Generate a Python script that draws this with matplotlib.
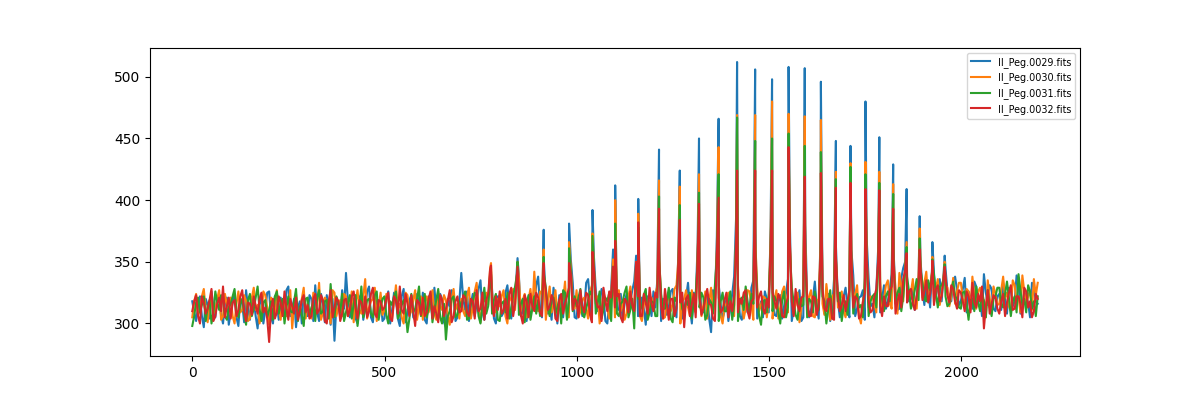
import numpy as np
import matplotlib
matplotlib.use('Agg')
import matplotlib.pyplot as plt

# spectra of II Peg, four frames
# baseline read every ~10 units (base) and half way between (mid), peaks listed separately
files = ['II_Peg.0029.fits', 'II_Peg.0030.fits', 'II_Peg.0031.fits', 'II_Peg.0032.fits']

x_fine = np.linspace(0, 2199, 441)

blue = [318, 302, 322, 297, 315, 326, 305, 318, 300, 321,
        309, 324, 298, 316, 327, 303, 319, 296, 322, 311,
        326, 300, 317, 321, 304, 330, 312, 297, 318, 325,
        306, 320, 331, 302, 316, 323, 299, 286, 318, 327,
        341, 305, 319, 300, 324, 313, 330, 301, 317, 322,
        304, 326, 311, 319, 298, 328, 309, 323, 303, 316,
        325, 300, 318, 329, 306, 320, 297, 314, 324, 305,
        341, 311, 302, 324, 316, 335, 303, 319, 328, 300,
        322, 309, 331, 304, 320, 338, 310, 302, 325, 316,
        338, 305, 321, 314, 329, 300, 318, 326, 309, 333,
        304, 320, 312, 336, 302, 327, 315, 323, 300, 328,
        330, 311, 303, 324, 318, 334, 306, 321, 299, 317,
        326, 335, 302, 319, 313, 328, 305, 322, 310, 333,
        300, 318, 327, 309, 323, 293, 316, 331, 304, 320,
        312, 338, 328, 303, 320, 311, 335, 304, 318, 326,
        309, 331, 306, 323, 314, 336, 302, 319, 327, 305,
        321, 311, 334, 304, 326, 316, 302, 336, 318, 310,
        329, 305, 339, 312, 322, 303, 336, 316, 327, 309,
        331, 318, 340, 323, 312, 345, 329, 320, 311, 338,
        327, 335, 313, 341, 330, 318, 345, 322, 333, 327,
        318, 337, 326, 312, 330, 321, 340, 315, 328, 310,
        324, 333, 308, 327, 318, 335, 313, 321, 305, 330,
        316]
blue_mid = [309, 314, 306, 320, 304, 313, 322, 307, 316, 299,
            317, 305, 320, 301, 313, 321, 306, 315, 300, 325,
            305, 322, 303, 310, 327, 306, 320, 313, 300, 311,
            323, 302, 309, 324, 301, 312, 320, 315, 305, 312,
            318, 322, 304, 321, 303, 326, 305, 320, 311, 302,
            320, 300, 325, 304, 322, 301, 319, 305, 324, 307,
            303, 322, 305, 311, 324, 301, 320, 327, 302, 318,
            320, 326, 316, 306, 328, 309, 316, 338, 304, 322,
            306, 325, 314, 319, 345, 306, 323, 318, 311, 331,
            312, 350, 308, 303, 318, 323, 305, 313, 352, 305,
            321, 306, 333, 318, 355, 310, 328, 302, 317, 360,
            312, 324, 316, 309, 327, 355, 308, 312, 322, 306,
            313, 365, 320, 307, 326, 314, 360, 304, 321, 312,
            325, 365, 311, 319, 304, 327, 370, 315, 310, 302,
            324, 385, 306, 318, 309, 329, 380, 312, 305, 320,
            378, 307, 318, 304, 325, 382, 311, 320, 302, 380,
            305, 320, 313, 375, 308, 324, 311, 362, 305, 322,
            313, 360, 306, 321, 327, 368, 314, 305, 362, 320,
            312, 328, 358, 311, 337, 350, 318, 331, 322, 352,
            315, 328, 345, 322, 336, 340, 326, 318, 338, 315,
            328, 309, 321, 334, 318, 306, 325, 331, 312, 322,
            311, 320, 329, 314, 339, 308, 326, 317, 333, 318]

orange = [305, 324, 310, 328, 301, 319, 312, 327, 306, 315,
          321, 300, 326, 311, 318, 304, 329, 315, 308, 323,
          299, 318, 327, 303, 320, 312, 296, 324, 310, 329,
          316, 304, 322, 333, 309, 318, 300, 325, 313, 306,
          322, 314, 301, 327, 308, 336, 313, 320, 302, 325,
          311, 320, 304, 331, 316, 300, 323, 310, 327, 314,
          303, 322, 315, 308, 326, 311, 319, 299, 328, 316,
          320, 306, 329, 313, 333, 301, 318, 315, 325, 309,
          314, 327, 300, 321, 311, 336, 319, 305, 328, 342,
          310, 324, 303, 330, 316, 308, 322, 334, 305, 318,
          327, 310, 321, 304, 331, 316, 300, 326, 313, 322,
          305, 327, 319, 308, 330, 313, 321, 302, 325, 315,
          311, 330, 318, 305, 324, 316, 331, 300, 320, 313,
          327, 309, 321, 315, 304, 329, 318, 325, 300, 316,
          320, 306, 331, 318, 312, 326, 303, 329, 315, 321,
          318, 304, 327, 313, 330, 309, 322, 316, 301, 328,
          313, 327, 305, 320, 316, 332, 303, 324, 313, 326,
          305, 322, 316, 331, 300, 326, 313, 321, 309, 334,
          320, 335, 312, 327, 341, 318, 332, 325, 315, 339,
          321, 342, 330, 317, 336, 325, 331, 314, 337, 326,
          333, 317, 326, 338, 312, 329, 319, 335, 308, 324,
          316, 338, 325, 310, 331, 322, 339, 314, 327, 336,
          333]
orange_mid = [318, 307, 322, 311, 315, 308, 320, 303, 324, 312,
              306, 316, 309, 323, 302, 321, 311, 300, 326, 313,
              321, 307, 312, 318, 306, 327, 314, 305, 320, 304,
              309, 325, 314, 303, 321, 310, 327, 306, 319, 324,
              306, 326, 317, 311, 322, 304, 318, 329, 313, 307,
              324, 308, 317, 312, 305, 325, 307, 319, 303, 322,
              318, 309, 327, 303, 314, 323, 306, 320, 311, 304,
              310, 322, 304, 326, 312, 319, 325, 345, 311, 320,
              322, 306, 318, 328, 342, 310, 324, 320, 311, 318,
              326, 344, 318, 309, 327, 314, 319, 305, 346, 312,
              305, 319, 312, 326, 348, 322, 307, 318, 304, 352,
              318, 310, 303, 322, 312, 350, 306, 315, 308, 321,
              324, 356, 304, 318, 310, 328, 352, 318, 327, 306,
              312, 356, 306, 326, 318, 310, 360, 306, 314, 325,
              308, 370, 316, 304, 327, 315, 368, 310, 322, 305,
              370, 319, 304, 326, 317, 368, 308, 325, 313, 366,
              322, 306, 318, 365, 307, 318, 322, 355, 320, 310,
              319, 356, 324, 306, 318, 356, 322, 316, 354, 312,
              331, 316, 352, 308, 330, 345, 321, 336, 312, 348,
              333, 320, 342, 328, 315, 338, 329, 322, 316, 333,
              320, 328, 311, 322, 326, 316, 305, 321, 330, 315,
              327, 321, 314, 335, 318, 309, 326, 322, 311, 323]

green = [298, 317, 309, 322, 313, 300, 326, 311, 318, 303,
         316, 328, 305, 320, 299, 324, 312, 330, 302, 319,
         311, 303, 326, 315, 300, 322, 309, 328, 314, 298,
         321, 313, 302, 327, 310, 319, 332, 305, 317, 324,
         309, 323, 316, 298, 330, 311, 320, 305, 326, 313,
         322, 300, 315, 326, 308, 319, 293, 324, 312, 330,
         316, 305, 323, 312, 328, 300, 287, 310, 322, 307,
         313, 326, 304, 318, 322, 300, 329, 314, 308, 324,
         302, 318, 325, 312, 330, 307, 320, 316, 303, 322,
         319, 312, 329, 306, 321, 313, 300, 325, 317, 310,
         314, 328, 305, 319, 323, 308, 326, 311, 318, 302,
         322, 306, 318, 330, 311, 296, 320, 314, 328, 309,
         317, 306, 324, 312, 329, 301, 318, 326, 308, 315,
         304, 324, 313, 321, 307, 317, 331, 302, 325, 310,
         326, 315, 302, 321, 330, 307, 316, 323, 299, 319,
         324, 310, 318, 300, 326, 313, 329, 307, 320, 315,
         305, 318, 326, 311, 322, 300, 327, 312, 318, 302,
         318, 329, 308, 324, 315, 337, 306, 322, 313, 326,
         310, 326, 335, 316, 329, 322, 338, 312, 327, 319,
         333, 318, 327, 339, 313, 331, 322, 316, 334, 320,
         312, 326, 303, 320, 330, 310, 318, 327, 306, 322,
         329, 313, 334, 306, 322, 340, 315, 309, 326, 318,
         322]
green_mid = [306, 321, 315, 302, 319, 309, 317, 323, 306, 313,
             322, 310, 316, 308, 319, 306, 321, 312, 317, 305,
             318, 322, 308, 320, 313, 310, 318, 302, 307, 320,
             306, 317, 321, 308, 318, 304, 310, 322, 309, 302,
             317, 304, 323, 312, 305, 319, 308, 323, 303, 320,
             307, 318, 322, 304, 315, 311, 304, 309, 320, 306,
             324, 313, 301, 319, 305, 316, 306, 320, 305, 318,
             321, 303, 316, 325, 306, 315, 308, 340, 319, 303,
             316, 309, 304, 323, 340, 316, 301, 323, 312, 308,
             306, 340, 313, 320, 308, 319, 327, 303, 343, 322,
             321, 308, 312, 326, 345, 317, 304, 321, 325, 346,
             308, 316, 325, 305, 320, 346, 311, 323, 303, 318,
             306, 350, 312, 319, 304, 321, 346, 312, 319, 325,
             318, 350, 325, 303, 320, 308, 354, 318, 310, 317,
             303, 365, 319, 311, 318, 324, 360, 306, 318, 309,
             358, 322, 309, 319, 305, 360, 317, 303, 314, 356,
             320, 309, 314, 355, 318, 312, 306, 350, 325, 314,
             307, 352, 319, 313, 305, 350, 318, 324, 348, 320,
             322, 318, 349, 325, 310, 342, 326, 318, 336, 344,
             320, 335, 341, 324, 330, 336, 314, 327, 322, 313,
             325, 316, 319, 310, 317, 326, 305, 314, 320, 329,
             316, 324, 321, 318, 309, 327, 320, 331, 312, 306]

red = [310, 323, 300, 317, 312, 328, 306, 321, 330, 314,
       304, 319, 311, 327, 302, 316, 322, 308, 325, 313,
       285, 320, 309, 317, 326, 303, 314, 321, 310, 323,
       315, 306, 324, 311, 319, 300, 327, 313, 318, 308,
       320, 311, 326, 304, 317, 322, 310, 329, 305, 318,
       313, 325, 302, 319, 330, 308, 316, 323, 298, 317,
       321, 309, 326, 314, 301, 319, 312, 327, 306, 322,
       310, 321, 306, 318, 327, 312, 303, 324, 316, 322,
       326, 311, 304, 329, 316, 322, 300, 318, 324, 310,
       321, 306, 327, 314, 319, 302, 324, 316, 329, 311,
       318, 327, 309, 323, 301, 320, 314, 329, 310, 321,
       313, 324, 301, 318, 326, 310, 322, 306, 317, 329,
       310, 321, 314, 328, 303, 320, 312, 317, 297, 323,
       316, 305, 322, 312, 328, 315, 302, 321, 311, 325,
       318, 323, 309, 316, 327, 304, 320, 313, 326, 308,
       313, 325, 312, 320, 305, 321, 318, 328, 310, 322,
       319, 306, 321, 314, 328, 310, 320, 303, 322, 315,
       310, 327, 313, 320, 306, 325, 318, 311, 328, 315,
       322, 314, 330, 308, 324, 336, 317, 328, 311, 333,
       319, 335, 324, 315, 331, 322, 338, 317, 328, 312,
       325, 310, 322, 333, 313, 318, 296, 327, 316, 321,
       308, 324, 317, 331, 312, 322, 305, 326, 318, 310,
       320]
red_mid = [318, 306, 322, 308, 319, 302, 316, 310, 305, 321,
           317, 306, 322, 310, 317, 307, 314, 320, 309, 304,
           312, 304, 322, 306, 312, 320, 308, 303, 319, 309,
           304, 320, 308, 323, 302, 318, 305, 321, 302, 319,
           306, 322, 312, 319, 308, 305, 324, 308, 319, 311,
           320, 304, 322, 308, 311, 324, 306, 310, 319, 307,
           306, 320, 304, 308, 323, 306, 319, 301, 318, 309,
           323, 309, 320, 304, 310, 325, 319, 344, 306, 311,
           308, 320, 324, 306, 340, 307, 323, 305, 314, 325,
           309, 338, 311, 323, 304, 319, 308, 322, 340, 320,
           305, 314, 325, 307, 344, 313, 302, 318, 326, 346,
           322, 305, 320, 309, 315, 350, 306, 324, 308, 316,
           325, 352, 304, 316, 320, 306, 350, 325, 320, 306,
           324, 352, 307, 320, 316, 304, 354, 309, 319, 305,
           310, 360, 320, 325, 310, 318, 360, 322, 312, 320,
           360, 318, 324, 306, 316, 365, 306, 315, 321, 358,
           306, 322, 307, 358, 312, 320, 304, 352, 310, 323,
           318, 354, 322, 304, 317, 352, 309, 322, 352, 306,
           314, 327, 350, 318, 313, 343, 326, 316, 322, 345,
           326, 317, 340, 328, 318, 336, 323, 331, 318, 327,
           318, 326, 309, 317, 324, 330, 314, 308, 323, 312,
           318, 306, 325, 311, 322, 316, 329, 313, 305, 324]

# emission peaks (position, then height for each frame)
peak_x = [777, 846, 914, 980, 1041, 1100, 1160, 1214, 1268, 1318, 1369, 1417, 1464,
          1508, 1551, 1593, 1635, 1674, 1712, 1751, 1787, 1823, 1858, 1892, 1925, 1957]
peak_blue = [340, 353, 376, 381, 392, 412, 401, 441, 424, 450, 466, 512, 506,
             498, 508, 507, 496, 448, 444, 480, 451, 429, 409, 387, 366, 355]
peak_orange = [349, 350, 360, 366, 373, 400, 389, 416, 411, 421, 443, 469, 469,
               480, 470, 468, 465, 423, 430, 431, 423, 413, 366, 377, 354, 350]
peak_green = [342, 350, 354, 361, 371, 381, 378, 403, 396, 406, 421, 467, 448,
              450, 454, 444, 439, 417, 427, 421, 414, 405, 362, 369, 352, 348]
peak_red = [347, 346, 349, 349, 358, 367, 382, 393, 384, 397, 402, 424, 424,
            424, 443, 419, 422, 410, 414, 409, 408, 393, 357, 360, 351, 346]

series = [(blue, blue_mid, peak_blue), (orange, orange_mid, peak_orange),
          (green, green_mid, peak_green), (red, red_mid, peak_red)]

fig = plt.figure(figsize=(12, 4), dpi=100)
ax = plt.subplot(111)
for name, (base, mid, pk) in zip(files, series):
    y = np.empty(len(x_fine))
    y[0::2] = base
    y[1::2] = mid
    x = np.concatenate([x_fine, peak_x])
    y = np.concatenate([y, pk])
    order = np.argsort(x)
    ax.plot(x[order], y[order], label=name)
ax.legend(loc='upper right', fontsize='x-small')
fig.savefig('out.png')
